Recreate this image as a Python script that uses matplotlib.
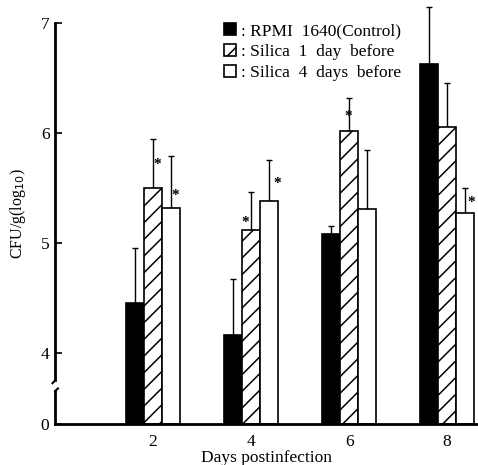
import numpy as np
import matplotlib
matplotlib.use('Agg')
import matplotlib.pyplot as plt

plt.rcParams['font.family'] = ['Liberation Serif', 'DejaVu Serif']
plt.rcParams['hatch.linewidth'] = 1.1

days = [2, 4, 6, 8]
labels = [': RPMI  1640(Control)', ': Silica  1  day  before', ': Silica  4  days  before']
control = [4.45, 4.16, 5.08, 6.63]
control_err = [0.50, 0.51, 0.07, 0.51]
silica1 = [5.50, 5.12, 6.02, 6.05]
silica1_err = [0.44, 0.34, 0.30, 0.40]
silica4 = [5.32, 5.38, 5.31, 5.27]
silica4_err = [0.47, 0.37, 0.53, 0.23]
# significance marks: (x in days, y value)
stars = [(2.08, 5.71), (2.45, 5.43), (3.88, 5.19),
         (4.53, 5.54), (5.98, 6.15), (8.50, 5.37)]

# compressed scale below 4 (broken axis look)
K = 71 / 110.
def fwd(y):
    y = np.asarray(y, dtype=float)
    return np.where(y < 4, y * K / 4, K + (y - 4))
def inv(u):
    u = np.asarray(u, dtype=float)
    return np.where(u < K, u * 4 / K, 4 + (u - K))

fig = plt.figure(figsize=(4.78, 4.65), dpi=100)
ax = fig.add_axes([55/478, 41/465, 423/478, 421/465])
ax.set_yscale('function', functions=(fwd, inv))

w = 0.37
x = np.array(days, dtype=float)
series = [(control, control_err, 'black', ''), (silica1, silica1_err, 'white', '//'),
          (silica4, silica4_err, 'white', '')]
handles = []
for i, (vals, errs, fc, hatch) in enumerate(series):
    xs = x + (i - 1) * w
    b = ax.bar(xs, vals, width=w, color=fc, edgecolor='black', hatch=hatch,
               linewidth=1.2, zorder=2)
    handles.append(b)
    ax.errorbar(xs, vals, yerr=[np.zeros(len(vals)), errs], fmt='none',
                ecolor='black', elinewidth=1.0, capsize=2.5, capthick=1.0, zorder=1)

for sx, sy in stars:
    ax.text(sx, sy, '*', ha='center', va='center', fontsize=11, fontweight='bold')

ax.set_xlim(0, 8.63)
ax.set_ylim(0, 7.18)
ax.set_yticks([0, 4, 5, 6, 7])
ax.set_yticklabels(['0', '4', '5', '6', '7'])
ax.set_xticks(days)
ax.tick_params(axis='y', direction='in', length=5, width=1.2, labelsize=12.5, pad=4)
ax.tick_params(axis='x', length=0, labelsize=12.5, pad=7)

for s in ['top', 'right', 'left']:
    ax.spines[s].set_visible(False)
ax.spines['bottom'].set_linewidth(2.0)

# broken left spine
ax.plot([0, 0], [0, 1.85], color='black', lw=2.0, clip_on=False, zorder=3)
ax.plot([0, 0.06], [1.85, 2.0], color='black', lw=1.5, clip_on=False, zorder=3)
ax.plot([0, 0], [2.45, 7.0], color='black', lw=2.0, clip_on=False, zorder=3)
ax.plot([0, -0.05], [2.45, 2.3], color='black', lw=1.5, clip_on=False, zorder=3)

ax.set_ylabel('CFU/g(log$_{10}$)', fontsize=11.5, labelpad=9)
ax.set_xlabel('Days postinfection', fontsize=12.5, labelpad=0)

fig.legend(handles, labels, loc='upper left', bbox_to_anchor=(224/478, 1 - 23/465),
           frameon=False, fontsize=12.5, handlelength=0.7, handleheight=0.7,
           handletextpad=0.3, labelspacing=0.27, borderpad=0, borderaxespad=0)

fig.savefig('out.png', dpi=100)
